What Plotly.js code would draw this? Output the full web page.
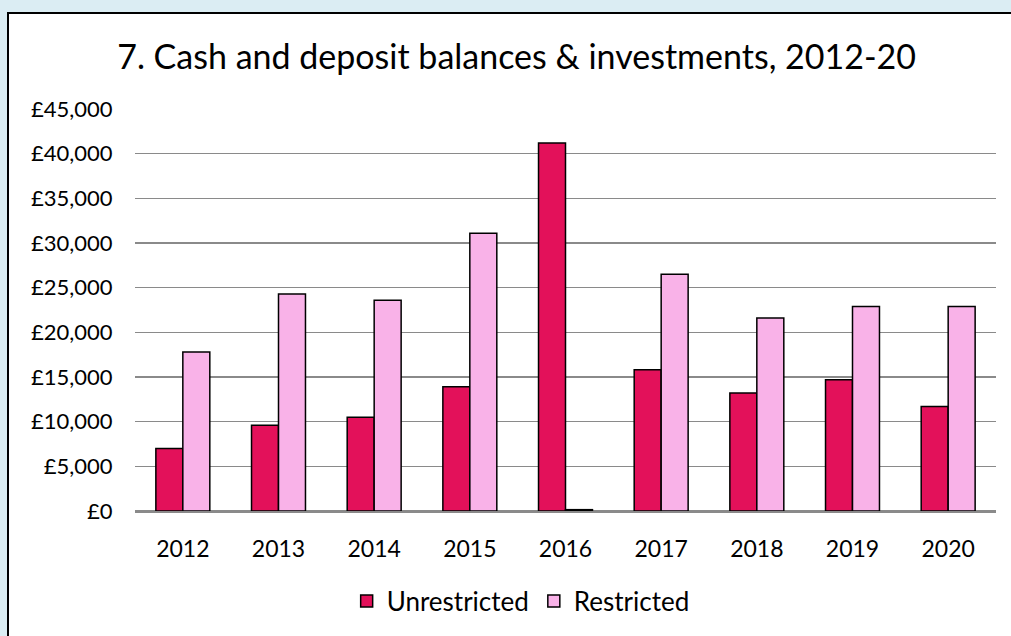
<!DOCTYPE html>
<html>
<head>
<meta charset="utf-8">
<script src="https://cdn.plot.ly/plotly-3.0.1.min.js"></script>
<style>
  html, body { margin:0; padding:0; width:1011px; height:636px; overflow:hidden; background:#dbedf3; }
  #frame { position:absolute; left:7px; top:12px; width:1030px; height:650px; background:#ffffff; border:2px solid #000; box-sizing:border-box; }
  #chart { position:absolute; left:0; top:0; width:1011px; height:636px; }
</style>
</head>
<body>
<div id="frame"></div>
<div id="chart"></div>
<script>
const years = ['2012','2013','2014','2015','2016','2017','2018','2019','2020'];
const unrestricted = [7000, 9600, 10500, 13900, 41200, 15800, 13200, 14700, 11700];
const restricted = [17800, 24300, 23600, 31100, 150, 26500, 21600, 22900, 22900];
const seriesNames = ['Unrestricted', 'Restricted'];
const chartTitle = '7. Cash and deposit balances & investments, 2012-20';

const FONT = 'Lato, "Open Sans", sans-serif';
const traces = [
  { type:'bar', name:seriesNames[0], x:years, y:unrestricted,
    marker:{ color:'#e3115a', line:{ color:'#000', width:1.5 } } },
  { type:'bar', name:seriesNames[1], x:years, y:restricted,
    marker:{ color:'#f9b2e8', line:{ color:'#000', width:1.5 } } }
];
const layout = {
  width:1011, height:636,
  paper_bgcolor:'rgba(0,0,0,0)', plot_bgcolor:'rgba(0,0,0,0)',
  margin:{ l:135, r:15, t:109, b:125 },
  font:{ family:FONT, color:'#000' },
  title:{ text:chartTitle, xref:'container', x:0.511, xanchor:'center', yref:'container', y:1-57/636, yanchor:'middle',
          font:{ family:FONT, size:34, color:'#000' } },
  barmode:'group', bargap:0.436, bargroupgap:0,
  xaxis:{ type:'category', showgrid:false, showline:true, linecolor:'#8a8a8a', linewidth:1.5,
          ticks:'outside', ticklen:17, tickcolor:'rgba(0,0,0,0)', tickfont:{ size:23, family:FONT } },
  yaxis:{ range:[0,45000], dtick:5000, tick0:0, tickprefix:'£', tickformat:',d', separatethousands:true,
          showgrid:true, gridcolor:'#8a8a8a', gridwidth:1.5, zeroline:true, zerolinecolor:'#8a8a8a', zerolinewidth:1.5,
          showline:false, ticks:'outside', ticklen:17, tickcolor:'rgba(0,0,0,0)', tickfont:{ size:22, family:FONT } },
  showlegend:true,
  legend:{ orientation:'h', xref:'container', yref:'container', x:0.515, xanchor:'center', y:1-601/636, yanchor:'middle',
           font:{ size:26, family:FONT }, itemwidth:30, tracegroupgap:0 }
};
Plotly.newPlot('chart', traces, layout, { displayModeBar:false, staticPlot:true });
</script>
</body>
</html>
